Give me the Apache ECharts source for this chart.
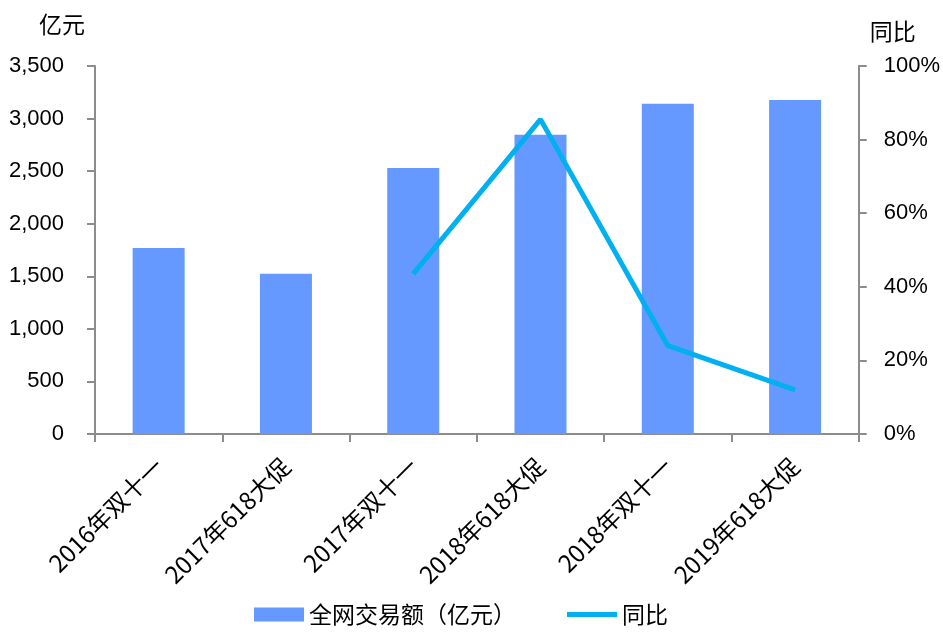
<!DOCTYPE html>
<html>
<head>
<meta charset="utf-8">
<script src="https://cdn.jsdelivr.net/npm/echarts@6/dist/echarts.min.js"></script>
<style>
  html, body { margin: 0; padding: 0; background: #fff; }
  #chart { width: 943px; height: 632px; }
</style>
</head>
<body>
<div id="chart"></div>
<script>
// Online retail turnover per shopping festival (100 million yuan) and year-on-year growth
const categories = ['2016年双十一', '2017年618大促', '2017年双十一', '2018年618大促', '2018年双十一', '2019年618大促'];
const turnover = [1770, 1525, 2530, 2845, 3140, 3177];
const yoyGrowth = [null, null, 43.5, 85.5, 24.0, 12.0];
const leftTicks = { min: 0, max: 3500, interval: 500 };
const rightTicks = { min: 0, max: 100, interval: 20 };

const numFont = 'Liberation Sans, Arial, sans-serif';
const cjkFont = '"Noto Sans CJK SC", "Noto Sans", sans-serif';
const axisGrey = '#8c8c8c';

const chart = echarts.init(document.getElementById('chart'));
chart.setOption({
  backgroundColor: '#ffffff',
  animation: false,
  grid: { left: 95, right: 81, top: 66, bottom: 198, containLabel: false },
  legend: {
    bottom: 1,
    left: 249,
    itemWidth: 50,
    itemHeight: 14,
    itemGap: 51,
    itemTextGap: 9,
    symbolKeepAspect: true,
    textStyle: { fontFamily: cjkFont, fontSize: 23, color: '#000' },
    data: [
      { name: '全网交易额（亿元）', icon: 'rect' },
      { name: '同比', icon: 'path://M0,0 L50,0 L50,5 L0,5 Z' }
    ]
  },
  xAxis: {
    type: 'category',
    data: categories,
    axisLine: { lineStyle: { color: axisGrey, width: 2 } },
    axisTick: { show: true, length: 8, alignWithLabel: false, lineStyle: { color: axisGrey, width: 2 } },
    axisLabel: {
      rotate: 45,
      margin: 28,
      interval: 0,
      fontFamily: cjkFont,
      fontSize: 24,
      color: '#000'
    }
  },
  yAxis: [
    {
      type: 'value',
      min: leftTicks.min, max: leftTicks.max, interval: leftTicks.interval,
      name: '亿元',
      nameLocation: 'end',
      nameGap: 30,
      nameTextStyle: { fontFamily: cjkFont, fontSize: 23, color: '#000', align: 'right', padding: [0, 10, 0, 0] },
      axisLine: { show: true, lineStyle: { color: axisGrey, width: 2 } },
      axisTick: { show: true, length: 8, lineStyle: { color: axisGrey, width: 2 } },
      splitLine: { show: false },
      axisLabel: {
        margin: 31,
        fontFamily: numFont,
        fontSize: 22,
        color: '#000',
        formatter: v => v.toLocaleString('en-US')
      }
    },
    {
      type: 'value',
      position: 'right',
      min: rightTicks.min, max: rightTicks.max, interval: rightTicks.interval,
      name: '同比',
      nameLocation: 'end',
      nameGap: 23,
      nameTextStyle: { fontFamily: cjkFont, fontSize: 23, color: '#000', align: 'left', padding: [0, 0, 0, 11] },
      axisLine: { show: true, lineStyle: { color: axisGrey, width: 2 } },
      axisTick: { show: true, length: 8, lineStyle: { color: axisGrey, width: 2 } },
      splitLine: { show: false },
      axisLabel: {
        margin: 25,
        fontFamily: numFont,
        fontSize: 22,
        color: '#000',
        formatter: v => v + '%'
      }
    }
  ],
  series: [
    {
      name: '全网交易额（亿元）',
      type: 'bar',
      yAxisIndex: 0,
      data: turnover,
      barWidth: 52,
      itemStyle: { color: '#6699ff' }
    },
    {
      name: '同比',
      type: 'line',
      yAxisIndex: 1,
      data: yoyGrowth,
      symbol: 'none',
      showSymbol: false,
      connectNulls: false,
      lineStyle: { color: '#00b0f0', width: 5 },
      itemStyle: { color: '#00b0f0' }
    }
  ]
});
</script>
</body>
</html>
